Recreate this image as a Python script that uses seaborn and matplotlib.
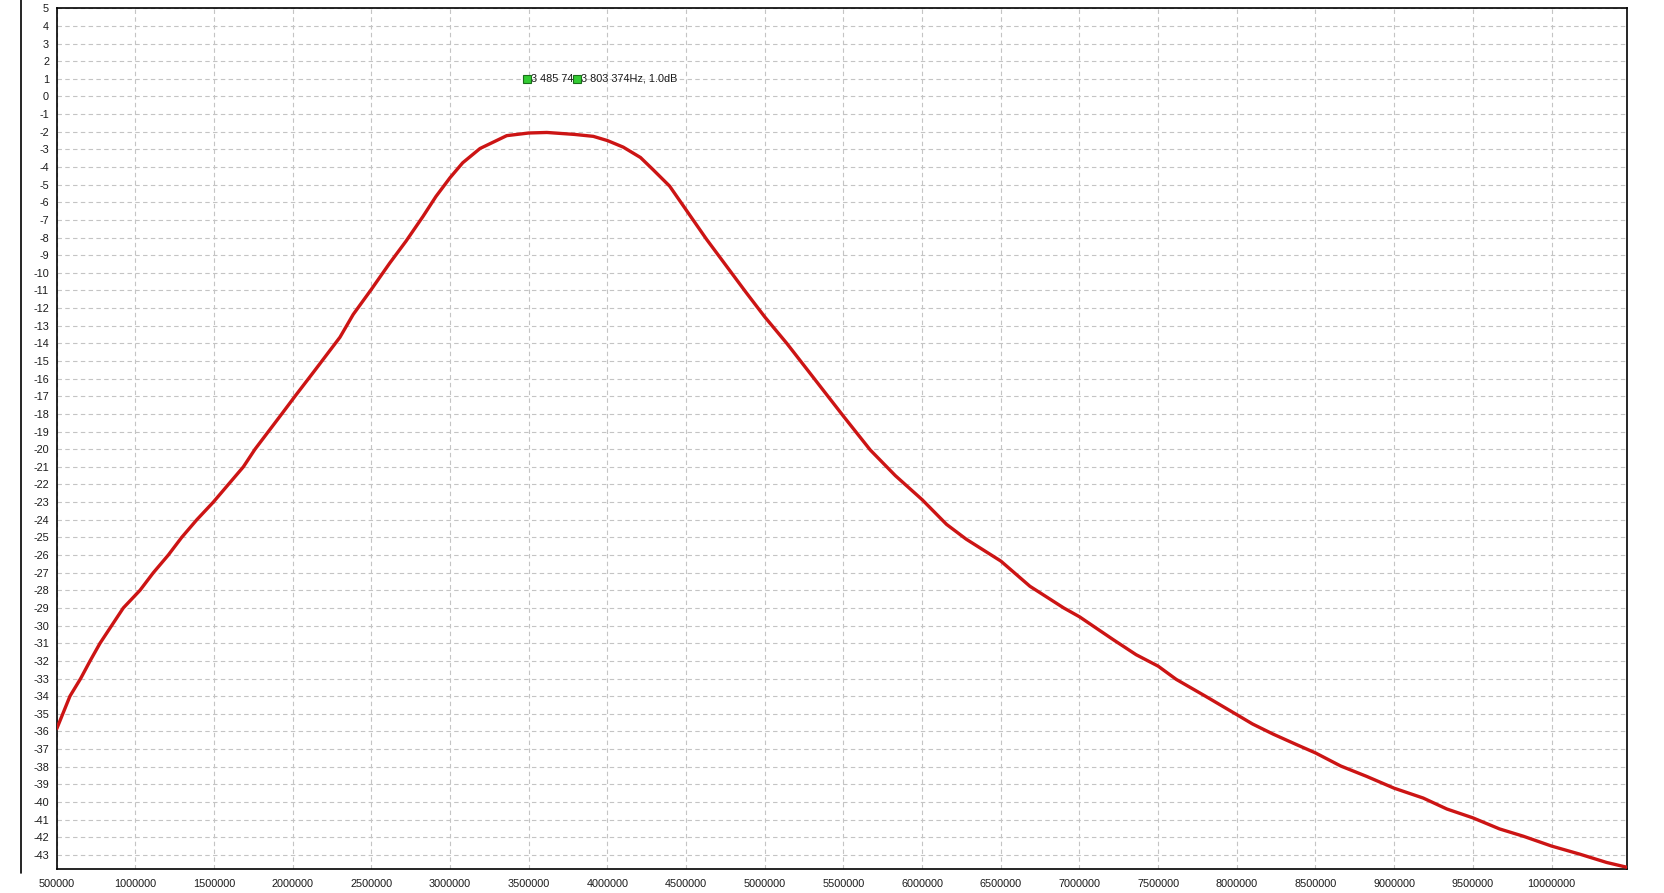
import numpy as np
import pandas as pd
import matplotlib
matplotlib.use("Agg")
import matplotlib.pyplot as plt
from matplotlib.lines import Line2D
from matplotlib.ticker import MultipleLocator, FuncFormatter
import seaborn as sns

sns.set_style("whitegrid")
plt.rcParams['font.family'] = ['Liberation Sans', 'DejaVu Sans']

# Resposta em frequência (Hz, dB)
freq_hz = [500000, 584000, 652000, 712000, 775000, 849000, 923000,
           1029000, 1114000, 1209000, 1294000, 1390000, 1495000,
           1686000, 1760000, 1845000, 1930000, 2014000, 2130000, 2300000,
           2384000, 2500000, 2616000, 2720000, 2827000, 2910000, 3000000,
           3080000, 3190000, 3360000, 3500000, 3615000, 3790000, 3910000,
           4000000, 4100000, 4210000, 4290000, 4395000, 4500000, 4630000,
           4755000, 4880000, 5000000, 5140000, 5310000, 5500000, 5670000,
           5830000, 6000000, 6155000, 6280000, 6500000, 6685000, 6900000,
           7000000, 7215000, 7360000, 7500000, 7615000, 7800000, 8000000,
           8100000, 8230000, 8380000, 8500000, 8660000, 8825000, 9000000,
           9185000, 9335000, 9500000, 9670000, 9820000, 10000000, 10180000,
           10350000, 10478000]
gain_db = [-35.85, -34.0, -33.0, -32.0, -31.0, -30.0, -29.0,
           -28.0, -27.0, -26.0, -25.0, -24.0, -23.0,
           -21.0, -20.0, -19.0, -18.0, -17.0, -15.65, -13.65,
           -12.36, -10.93, -9.45, -8.2, -6.81, -5.67, -4.6,
           -3.76, -2.95, -2.22, -2.07, -2.04, -2.15, -2.26,
           -2.5, -2.87, -3.46, -4.15, -5.08, -6.43, -8.1,
           -9.6, -11.1, -12.5, -14.0, -15.95, -18.13, -20.04,
           -21.5, -22.86, -24.26, -25.1, -26.34, -27.77, -29.0,
           -29.5, -30.8, -31.65, -32.3, -33.05, -34.0, -35.05,
           -35.58, -36.15, -36.75, -37.22, -37.96, -38.55, -39.22,
           -39.78, -40.4, -40.9, -41.53, -41.94, -42.5, -42.96,
           -43.43, -43.7]

# Marcadores
marker_hz = [3485742, 3803374]
marker_db = [1.0, 1.0]
marker_text = ["3 485 74", "3 803 374Hz, 1.0dB"]

df = pd.DataFrame({'freq': freq_hz, 'gain': gain_db})

fig = plt.figure(figsize=(16.64, 8.93), dpi=100)
ax = fig.add_axes([0.0341, 0.0269, 0.9435, 0.9638])

sns.lineplot(data=df, x='freq', y='gain', ax=ax, color='#cc1414', linewidth=2.4,
             zorder=3)

ax.set_xlim(500000, 10478000)
ax.set_ylim(-43.8, 5)
ax.xaxis.set_major_locator(MultipleLocator(500000))
ax.yaxis.set_major_locator(MultipleLocator(1))
ax.xaxis.set_major_formatter(FuncFormatter(lambda v, p: f"{int(round(v))}"))
ax.yaxis.set_major_formatter(FuncFormatter(lambda v, p: f"{int(round(v))}"))
ax.set_xlabel('')
ax.set_ylabel('')

ax.grid(True, color='#c4c4c4', linestyle=(0, (4, 3)), linewidth=0.8)
for s in ax.spines.values():
    s.set_visible(True)
    s.set_color('black')
    s.set_linewidth(1.2)
ax.tick_params(axis='both', which='major', length=3, width=1, color='black',
               labelsize=7.8, labelcolor='#1a1a1a', pad=2.5)
ax.tick_params(axis='x', pad=4)

# marcadores verdes com texto
for i, (hz, db, txt) in enumerate(zip(marker_hz, marker_db, marker_text)):
    ax.text(hz + 30000, db, txt, fontsize=7.8, color='#1a1a1a', va='center',
            ha='left', zorder=4 + 2 * i)
    ax.plot([hz], [db], marker='s', markersize=6, markerfacecolor='#33cc33',
            markeredgecolor='#1a6e1a', markeredgewidth=0.8, linestyle='none',
            zorder=5 + 2 * i)

# linha vertical à esquerda
fig.add_artist(Line2D([21 / 1664, 21 / 1664], [1.0, 1 - 873 / 893],
                      transform=fig.transFigure, color='black', linewidth=1.2))

plt.savefig('out.png', dpi=100)
